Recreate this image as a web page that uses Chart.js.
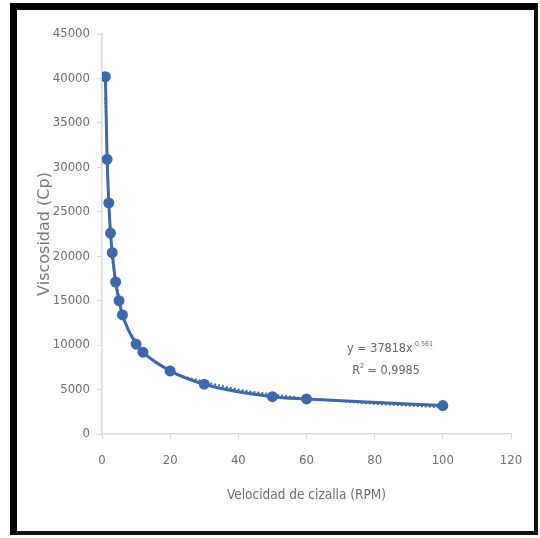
<!DOCTYPE html>
<html>
<head>
<meta charset="utf-8">
<script src="https://cdn.jsdelivr.net/npm/chart.js@4.4.0/dist/chart.umd.min.js"></script>
<style>
  html, body { margin: 0; padding: 0; background: #fff; }
  #wrap { position: relative; width: 540px; height: 538px; overflow: hidden; }
  #marco {
    position: absolute; left: 10px; top: 3px; width: 517px; height: 521px;
    border-left: 7px solid #000; border-top: 7px solid #000;
    border-right: 4px solid #111; border-bottom: 4px solid #111;
  }
  canvas { position: absolute; left: 0; top: 0; }
  .ecuacion {
    position: absolute; font-family: "DejaVu Sans Condensed", "Liberation Sans", sans-serif;
    font-size: 12.5px; color: #666; white-space: nowrap; transform: translateX(-50%);
  }
  .ecuacion sup { font-size: 7px; vertical-align: 6px; }
</style>
</head>
<body>
<div id="wrap">
  <div id="marco"></div>
  <canvas id="grafico" width="540" height="538"></canvas>
  <div class="ecuacion" style="left:390px; top:340px;">y = 37818x<sup>-0,561</sup></div>
  <div class="ecuacion" style="left:386px; top:362px;">R<sup>2</sup> = 0,9985</div>
</div>
<script>
// datos
const rpm = [1, 1.5, 2, 2.5, 3, 4, 5, 6, 10, 12, 20, 30, 50, 60, 100];
const viscosidad = [40200, 30900, 26000, 22600, 20400, 17100, 15000, 13400, 10100, 9200, 7100, 5600, 4200, 3950, 3200];

// linea de tendencia (potencial), valores estimados sobre la imagen
const rpmTendencia = [1, 2, 5, 10, 20, 30, 40, 50, 60, 70, 80, 90, 100];
const viscTendencia = [37800, 25600, 15300, 10400, 7100, 5900, 5000, 4450, 4000, 3700, 3400, 3200, 3000];

const azul = '#3d68ad';
const gris = '#6f6f6f';
const fuenteTicks = '"DejaVu Sans Condensed", "Liberation Sans", sans-serif';

const puntos = rpm.map((x, i) => ({ x: x, y: viscosidad[i] }));
const tendencia = rpmTendencia.map((x, i) => ({ x: x, y: viscTendencia[i] }));

const ctx = document.getElementById('grafico').getContext('2d');
new Chart(ctx, {
  type: 'scatter',
  data: {
    datasets: [{
      label: 'Tendencia',
      data: tendencia,
      showLine: true,
      borderColor: azul,
      borderWidth: 2,
      borderDash: [2, 2],
      pointRadius: 0,
      cubicInterpolationMode: 'monotone',
      order: 2
    }, {
      label: 'Viscosidad',
      data: puntos,
      showLine: true,
      borderColor: azul,
      backgroundColor: azul,
      borderWidth: 3,
      pointRadius: 4,
      pointHoverRadius: 4,
      cubicInterpolationMode: 'monotone',
      order: 1
    }]
  },
  options: {
    responsive: false,
    animation: false,
    layout: { padding: { left: 31, top: 34, right: 29, bottom: 30 } },
    plugins: { legend: { display: false }, tooltip: { enabled: false } },
    scales: {
      x: {
        type: 'linear',
        min: 0, max: 120,
        ticks: { stepSize: 20, color: gris, padding: 14,
                 font: { family: fuenteTicks, size: 13 },
                 callback: v => String(v) },
        grid: { display: true, drawOnChartArea: false, tickLength: 5, color: '#d9d9d9' },
        border: { color: '#d9d9d9', width: 1.5 },
        title: { display: true, text: 'Velocidad de cizalla (RPM)', color: gris,
                 font: { family: fuenteTicks, size: 13.5 } },
        afterFit: s => { s.height = 74; }
      },
      y: {
        min: 0, max: 45000,
        ticks: { stepSize: 5000, color: gris, padding: 7,
                 font: { family: fuenteTicks, size: 13 },
                 callback: v => String(v) },
        grid: { display: true, drawOnChartArea: false, tickLength: 5, color: '#d9d9d9' },
        border: { color: '#d9d9d9', width: 1.5 },
        title: { display: true, text: 'Viscosidad (Cp)', color: '#7a7a7a',
                 font: { family: '"DejaVu Sans", sans-serif', size: 16 } },
        afterFit: s => { s.width = 71; }
      }
    }
  }
});
</script>
</body>
</html>
